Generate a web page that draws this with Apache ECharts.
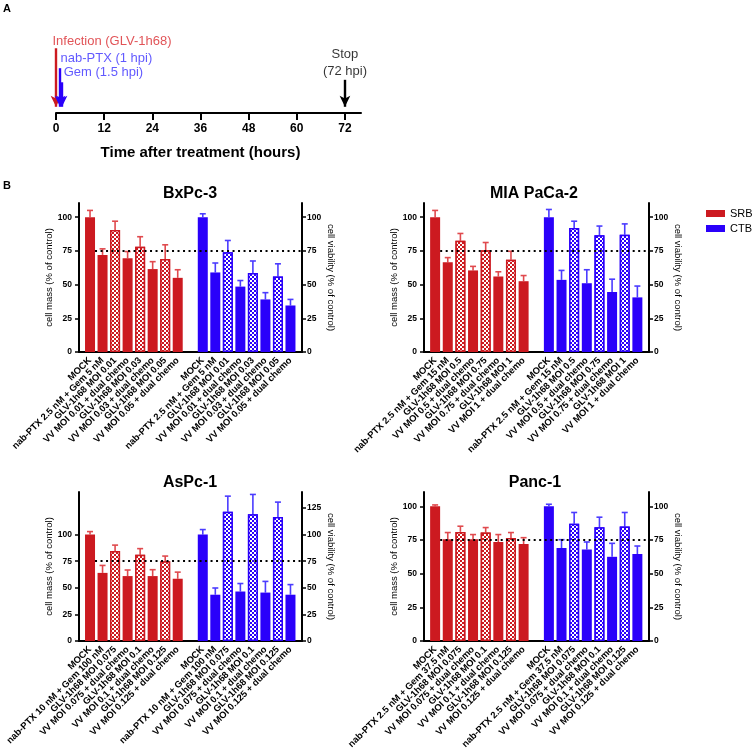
<!DOCTYPE html>
<html><head><meta charset="utf-8">
<script src="https://cdn.jsdelivr.net/npm/echarts@6/dist/echarts.min.js"></script>
<style>html,body{margin:0;padding:0;background:#fff}#c{width:756px;height:752px}</style>
</head><body><div id="c"></div>
<script>
// ---------- Panel A data ----------
const timeTicks = [0, 12, 24, 36, 48, 60, 72];
const eventLabels = ['Infection (GLV-1h68)', 'nab-PTX (1 hpi)', 'Gem (1.5 hpi)', 'Stop\n(72 hpi)'];
const eventTimes = [0, 1, 1.5, 72];

// ---------- Panel B data ----------
const cellLines = ['BxPc-3', 'MIA PaCa-2', 'AsPc-1', 'Panc-1'];
const bxpcLabels = ['MOCK', 'nab-PTX 2.5 nM + Gem 5 nM', 'GLV-1h68 MOI 0.01', 'VV MOI 0.01 + dual chemo', 'GLV-1h68 MOI 0.03', 'VV MOI 0.03 + dual chemo', 'GLV-1h68 MOI 0.05', 'VV MOI 0.05 + dual chemo'];
const miaLabels = ['MOCK', 'nab-PTX 2.5 nM + Gem 15 nM', 'GLV-1h68 MOI 0.5', 'VV MOI 0.5 + dual chemo', 'GLV-1h68 MOI 0.75', 'VV MOI 0.75 + dual chemo', 'GLV-1h68 MOI 1', 'VV MOI 1 + dual chemo'];
const aspcLabels = ['MOCK', 'nab-PTX 10 nM + Gem 100 nM', 'GLV-1h68 MOI 0.075', 'VV MOI 0.075 + dual chemo', 'GLV-1h68 MOI 0.1', 'VV MOI 0.1 + dual chemo', 'GLV-1h68 MOI 0.125', 'VV MOI 0.125 + dual chemo'];
const pancLabels = ['MOCK', 'nab-PTX 2.5 nM + Gem 37.5 nM', 'GLV-1h68 MOI 0.075', 'VV MOI 0.075 + dual chemo', 'GLV-1h68 MOI 0.1', 'VV MOI 0.1 + dual chemo', 'GLV-1h68 MOI 0.125', 'VV MOI 0.125 + dual chemo'];

const bxpcSRB   = [100, 72, 90.5, 69.5, 78, 61.5, 69, 55];
const bxpcSRBsd = [5, 4.5, 6.5, 5, 7.5, 5.5, 10.5, 6];
const bxpcCTB   = [100, 59, 74, 48.5, 58.5, 39, 56, 34.5];
const bxpcCTBsd = [2.5, 7, 8.7, 4.5, 9, 5, 9.4, 4.5];

const miaSRB   = [100, 66.5, 82.5, 60.5, 75.5, 56, 68.5, 52.5];
const miaSRBsd = [5, 3.5, 5.4, 3, 5.7, 3.5, 6.2, 4.2];
const miaCTB   = [100, 53.5, 92, 51, 86.5, 44.5, 87, 40.5];
const miaCTBsd = [5.7, 7, 5, 10, 6.9, 9.5, 8, 8.4];

const aspcSRB   = [100, 64, 84.5, 61, 81, 61, 75, 58.5];
const aspcSRBsd = [2.8, 7, 5.6, 5.7, 5.8, 6, 4.8, 6.2];
const aspcCTB   = [100, 43.5, 121.5, 46.5, 119, 45.5, 116.5, 43.5];
const aspcCTBsd = [4.7, 6.3, 14.6, 7.5, 18.7, 10.5, 14, 9.5];

const pancSRB   = [100, 75.5, 81, 75.5, 80.5, 73.5, 76.5, 72];
const pancSRBsd = [1, 5, 4.2, 3.5, 3.7, 5.5, 4, 4.7];
const pancCTB   = [100, 69, 87, 68, 84.5, 62.5, 85, 64.5];
const pancCTBsd = [1.5, 6.2, 8.4, 5.5, 7.4, 10, 10.4, 6];

const checkeredIdx = [2, 4, 6];   // GLV-1h68 alone
const refLine = 75;
const leftTickVals  = [[0,25,50,75,100],[0,25,50,75,100],[0,25,50,75,100],[0,25,50,75,100]];
const rightTickVals = [[0,25,50,75,100],[0,25,50,75,100],[0,25,50,75,100,125],[0,25,50,75,100]];

// ---------- styling / layout ----------
const FONT = '"Liberation Sans", Arial, Helvetica, sans-serif';
const RED = '#cc1a20', BLUE = '#2a00fa', RED_ERR = '#e04a4e', BLUE_ERR = '#4b3cff';
const TXT_RED = '#d9282d', TXT_BLUE = '#3a30ff';
const layouts = [
  {left: 79, top: 203, width: 223, height: 149, max: 110.5, tx: 190, ty: 194},
  {left: 424, top: 203, width: 225, height: 149, max: 110.5, tx: 534, ty: 194},
  {left: 79, top: 492, width: 223, height: 149, max: 140, tx: 190, ty: 483},
  {left: 424, top: 492, width: 225, height: 149, max: 110.6, tx: 535, ty: 483}
];
const panelData = [
  [bxpcLabels, bxpcSRB, bxpcSRBsd, bxpcCTB, bxpcCTBsd],
  [miaLabels, miaSRB, miaSRBsd, miaCTB, miaCTBsd],
  [aspcLabels, aspcSRB, aspcSRBsd, aspcCTB, aspcCTBsd],
  [pancLabels, pancSRB, pancSRBsd, pancCTB, pancCTBsd]
];
const decal = {symbol: 'rect', symbolSize: 1, color: '#ffffff', dashArrayX: [[2, 2], [0, 2, 2, 0]], dashArrayY: [2, 0]};
const GAP = 9; // slot offset of CTB group (one blank slot)

const grid = [{left: 56, width: 305, top: 30, height: 83, outerBoundsMode: 'none'}];
const xAxis = [{
  type: 'value', gridIndex: 0, min: 0, max: 76,
  axisLine: {show: true, onZero: false, lineStyle: {color: '#000', width: 2}},
  axisTick: {show: true, length: 7, lineStyle: {color: '#000', width: 2}, customValues: timeTicks},
  axisLabel: {customValues: timeTicks, margin: 10, color: '#000', fontSize: 12, fontWeight: 'bold', fontFamily: FONT},
  splitLine: {show: false},
  name: 'Time after treatment (hours)', nameLocation: 'middle', nameGap: 32,
  nameTextStyle: {color: '#000', fontSize: 15, fontWeight: 'bold', fontFamily: FONT, padding: [0, 16, 0, 0]}
}];
const yAxis = [{type: 'value', gridIndex: 0, min: 0, max: 100, show: false}];
const graphic = [];
const series = [];

// Panel A arrows and labels
function arrowSeries(color, lines, labels) {
  return {
    type: 'scatter', xAxisIndex: 0, yAxisIndex: 0, clip: false, silent: true,
    symbol: 'circle', symbolSize: 1, itemStyle: {color: 'rgba(0,0,0,0)'},
    data: labels,
    markLine: {
      silent: true, symbol: ['none', 'arrow'], symbolSize: [8, 11],
      lineStyle: {color: color, width: 2.4, type: 'solid'}, label: {show: false},
      data: lines
    }
  };
}
series.push(arrowSeries(RED,
  [[{coord: [eventTimes[0], 78]}, {coord: [eventTimes[0], 7.5]}]],
  [{value: [eventTimes[0] - 1, 86], label: {show: true, position: 'right', distance: 0, formatter: eventLabels[0], color: TXT_RED, fontSize: 13, fontFamily: FONT}}]
));
series.push(arrowSeries(BLUE,
  [[{coord: [eventTimes[1], 54]}, {coord: [eventTimes[1], 7.5]}], [{coord: [eventTimes[2], 37]}, {coord: [eventTimes[2], 7.5]}]],
  [{value: [eventTimes[1], 66], label: {show: true, position: 'right', distance: 0, formatter: eventLabels[1], color: TXT_BLUE, fontSize: 13, fontFamily: FONT}},
   {value: [eventTimes[2] + 0.3, 49], label: {show: true, position: 'right', distance: 0, formatter: eventLabels[2], color: TXT_BLUE, fontSize: 13, fontFamily: FONT}}]
));
series.push(arrowSeries('#000',
  [[{coord: [eventTimes[3], 40]}, {coord: [eventTimes[3], 7.5]}]],
  [{value: [eventTimes[3], 39.5], label: {show: true, position: 'top', distance: 0, formatter: eventLabels[3], color: '#000', fontSize: 13, lineHeight: 17, fontFamily: FONT}}]
));

// Panel B
function errRender(color) {
  return function (params, api) {
    const x = api.value(0), y = api.value(1), e = api.value(2);
    const p0 = api.coord([x, y]), p1 = api.coord([x, y + e]);
    const hw = 3;
    return {type: 'group', children: [
      {type: 'line', shape: {x1: p0[0], y1: p0[1], x2: p1[0], y2: p1[1]}, style: {stroke: color, lineWidth: 1.6}},
      {type: 'line', shape: {x1: p1[0] - hw, y1: p1[1], x2: p1[0] + hw, y2: p1[1]}, style: {stroke: color, lineWidth: 1.6}}
    ]};
  };
}

panelData.forEach((pd, p) => {
  const [labels, srb, srbSd, ctb, ctbSd] = pd;
  const L = layouts[p];
  const gi = p + 1, xi = p + 1, yl = 2 * p + 1, yr = 2 * p + 2;
  grid.push({left: L.left, top: L.top, width: L.width, height: L.height, outerBoundsMode: 'none'});
  const slots = labels.map((_, i) => i).concat(labels.map((_, i) => i + GAP));
  xAxis.push({
    type: 'value', gridIndex: gi, min: -0.88, max: 16.92,
    axisLine: {show: true, onZero: false, lineStyle: {color: '#000', width: 2}},
    axisTick: {show: false}, splitLine: {show: false},
    axisLabel: {
      customValues: slots, rotate: 45, margin: 7, color: '#000', fontSize: 9.4, fontWeight: 'bold', fontFamily: FONT,
      formatter: v => { const i = Math.round(v); return i < GAP ? labels[i] : labels[i - GAP]; }
    }
  });
  const yCommon = (pos, ticks, name, rot) => ({
    type: 'value', gridIndex: gi, position: pos, min: 0, max: L.max,
    axisLine: {show: true, onZero: false, lineStyle: {color: '#000', width: 2}},
    axisTick: {show: true, length: 4, lineStyle: {color: '#000', width: 1.5}, customValues: ticks},
    axisLabel: {customValues: ticks, margin: pos === 'left' ? 7 : 5, color: '#000', fontSize: 8.5, fontWeight: 'bold', fontFamily: FONT},
    splitLine: {show: false},
    name: name, nameLocation: 'middle', nameGap: 24, nameRotate: rot,
    nameTextStyle: {color: '#000', fontSize: 9.5, fontFamily: FONT}
  });
  yAxis.push(yCommon('left', leftTickVals[p], 'cell mass (% of control)', 90));
  yAxis.push(yCommon('right', rightTickVals[p], 'cell viability (% of control)', -90));

  const barData = (vals, color, off) => vals.map((v, i) => {
    const d = {value: [i + off, v]};
    if (checkeredIdx.includes(i)) d.itemStyle = {decal: decal, borderColor: color, borderWidth: 1.5};
    return d;
  });
  series.push({
    type: 'bar', name: 'SRB', xAxisIndex: xi, yAxisIndex: yl, barWidth: 10, barGap: '-100%',
    itemStyle: {color: RED}, data: barData(srb, RED, 0), silent: true,
    markLine: {
      silent: true, symbol: 'none', label: {show: false},
      lineStyle: {color: '#000', width: 2, type: [2, 3.5]},
      data: [[{coord: [0.4, refLine]}, {coord: [16.92, refLine]}]]
    }
  });
  series.push({
    type: 'bar', name: 'CTB', xAxisIndex: xi, yAxisIndex: yr, barWidth: 10, barGap: '-100%',
    itemStyle: {color: BLUE}, data: barData(ctb, BLUE, GAP), silent: true
  });
  series.push({
    type: 'custom', xAxisIndex: xi, yAxisIndex: yl, silent: true, renderItem: errRender(RED_ERR),
    encode: {x: 0, y: 1}, data: srb.map((v, i) => [i, v, srbSd[i]]), z: 1
  });
  series.push({
    type: 'custom', xAxisIndex: xi, yAxisIndex: yr, silent: true, renderItem: errRender(BLUE_ERR),
    encode: {x: 0, y: 1}, data: ctb.map((v, i) => [i + GAP, v, ctbSd[i]]), z: 1
  });
  graphic.push({type: 'text', x: L.tx, y: L.ty, style: {text: cellLines[p], align: 'center', verticalAlign: 'middle', fontSize: 16, fontWeight: 'bold', fontFamily: FONT, fill: '#000'}});
});

graphic.push({type: 'text', x: 3, y: 3, style: {text: 'A', fontSize: 11, fontWeight: 'bold', fontFamily: FONT, fill: '#000'}});
graphic.push({type: 'text', x: 3, y: 180, style: {text: 'B', fontSize: 11, fontWeight: 'bold', fontFamily: FONT, fill: '#000'}});

const chart = echarts.init(document.getElementById('c'), null, {renderer: 'canvas'});
chart.setOption({
  animation: false,
  backgroundColor: '#fff',
  textStyle: {fontFamily: FONT},
  legend: {
    data: ['SRB', 'CTB'], orient: 'vertical', left: 706, top: 208, padding: 0, itemWidth: 19, itemHeight: 7, itemGap: 4,
    icon: 'rect', selectedMode: false, textStyle: {fontSize: 11, color: '#000', fontFamily: FONT}
  },
  grid, xAxis, yAxis, series, graphic
});
</script></body></html>
